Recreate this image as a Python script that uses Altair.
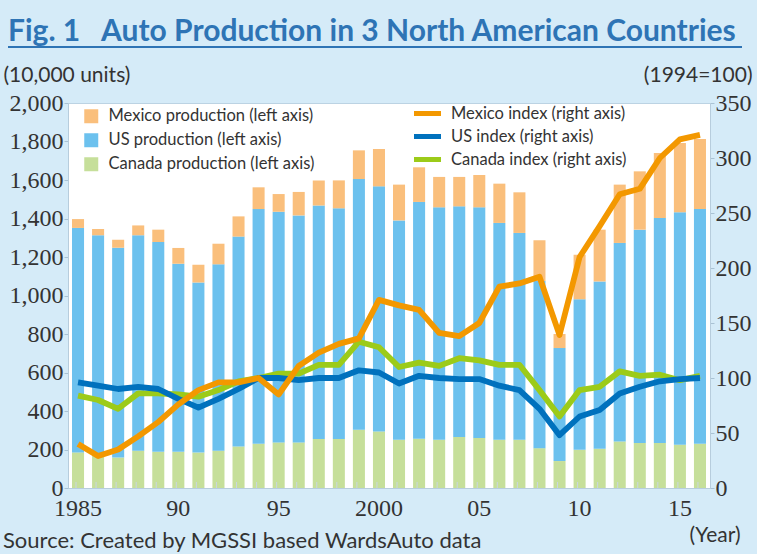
import altair as alt
import pandas as pd

years = list(range(1985, 2017))

# production (10,000 units), stacked: Canada bottom, US middle, Mexico top
canada_prod = [185, 182, 158, 194, 188, 188, 184, 194, 216, 230, 237, 237, 255, 255, 303, 294,
               251, 256, 251, 265, 260, 251, 251, 207, 140, 199, 204, 242, 234, 234, 225, 230]
us_prod = [1166, 1131, 1090, 1119, 1090, 977, 884, 968, 1090, 1219, 1198, 1179, 1212, 1198, 1302, 1273,
           1139, 1230, 1207, 1198, 1198, 1126, 1074, 868, 587, 781, 869, 1031, 1108, 1169, 1207, 1219]
mexico_prod = [46, 32, 42, 51, 64, 82, 92, 107, 105, 113, 92, 122, 131, 145, 149, 194,
               186, 180, 158, 153, 168, 204, 211, 212, 73, 232, 269, 303, 303, 337, 360, 364]

# indices (1994=100)
mexico_idx = [40, 29, 35, 47, 60, 76, 89, 96, 96, 100, 85, 111, 123, 131, 136, 171,
              166, 162, 141, 138, 150, 183, 186, 192, 139, 210, 238, 267, 272, 300, 317, 321]
us_idx = [96, 93, 90, 92, 90, 81, 73, 81, 90, 100, 100, 98, 100, 100, 107, 105,
          95, 102, 100, 99, 99, 93, 89, 72, 48, 65, 71, 86, 92, 97, 99, 100]
canada_idx = [84, 80, 72, 86, 86, 85, 83, 89, 97, 100, 104, 104, 112, 112, 133, 128,
              110, 114, 111, 118, 116, 112, 112, 89, 65, 89, 92, 106, 102, 103, 98, 102]

bar_names = ["Mexico production (left axis)", "US production (left axis)", "Canada production (left axis)"]
bar_colors = ["#fabf7c", "#6cc1ee", "#c6df9a"]
line_names = ["Mexico index (right axis)", "US index (right axis)", "Canada index (right axis)"]
line_colors = ["#f39800", "#0071bd", "#9ccb19"]

rows = []
for i, y in enumerate(years):
    rows.append({"year": y, "series": bar_names[2], "value": canada_prod[i], "ord": 0})
    rows.append({"year": y, "series": bar_names[1], "value": us_prod[i], "ord": 1})
    rows.append({"year": y, "series": bar_names[0], "value": mexico_prod[i], "ord": 2})
bars_df = pd.DataFrame(rows)

lrows = []
for name, vals in [(line_names[2], canada_idx), (line_names[1], us_idx), (line_names[0], mexico_idx)]:
    for y, v in zip(years, vals):
        lrows.append({"year": y, "series": name, "idx": v})
lines_df = pd.DataFrame(lrows)

W, H = 642, 385
LABEL_FONT = "Liberation Serif, Times New Roman, serif"
SANS = "Lato"

x_axis = alt.Axis(
    title="(Year)", titleX=672, titleY=47, titleAlign="right", titleBaseline="middle",
    titleFont=SANS, titleFontSize=21, titleFontWeight="normal", titleColor="#333333",
    labelAngle=0, labelFont=LABEL_FONT, labelFontSize=24, labelColor="#333333",
    labelPadding=8, ticks=False, domainColor="#b7cddd",
    labelExpr="datum.value % 5 != 0 ? '' : ((datum.value == 1985 || datum.value == 2000) ? '' + datum.value : substring('' + datum.value, 2))",
)
x_scale = alt.Scale(paddingInner=0.4, paddingOuter=0.2)
X = alt.X("year:O", scale=x_scale, axis=x_axis)

bars = alt.Chart(bars_df).mark_bar().encode(
    x=X,
    y=alt.Y("value:Q", stack="zero",
            scale=alt.Scale(domain=[0, 2000], nice=False),
            axis=alt.Axis(values=list(range(0, 2001, 200)), format=",d",
                          title="(10,000 units)", titleAngle=0, titleX=-65, titleY=-28,
                          titleAlign="left", titleBaseline="middle",
                          titleFont=SANS, titleFontSize=21, titleFontWeight="normal",
                          titleColor="#333333",
                          labelFont=LABEL_FONT, labelFontSize=24, labelColor="#333333",
                          tickSize=4, labelPadding=1, tickColor="#a9c2d4",
                          domainColor="#b7cddd", grid=False)),
    color=alt.Color("series:N",
                    scale=alt.Scale(domain=bar_names, range=bar_colors),
                    legend=alt.Legend(orient="none", legendX=15, legendY=5, title=None,
                                      symbolType="square", symbolSize=196, symbolStrokeWidth=0,
                                      labelFont=SANS, labelFontSize=16.5, labelColor="#333333",
                                      labelLimit=400, labelOffset=9, rowPadding=7, padding=0)),
    order=alt.Order("ord:Q"),
)

ticks = alt.Chart(pd.DataFrame({"year": years})).mark_rule(color="#c9d6e0", strokeWidth=1).encode(
    x=alt.X("year:O", scale=x_scale, bandPosition=1, axis=x_axis),
    xOffset=alt.value(4),
    y=alt.value(H - 6),
    y2=alt.value(H),
)

lines = alt.Chart(lines_df).mark_line(strokeWidth=5.8, strokeJoin="round").encode(
    x=X,
    y=alt.Y("idx:Q", scale=alt.Scale(domain=[0, 350], nice=False),
            axis=alt.Axis(orient="right", values=list(range(0, 351, 50)), format="d",
                          title="(1994=100)", titleAngle=0, titleX=42, titleY=-28,
                          titleAlign="right", titleBaseline="middle",
                          titleFont=SANS, titleFontSize=21, titleFontWeight="normal",
                          titleColor="#333333",
                          labelFont=LABEL_FONT, labelFontSize=24, labelColor="#333333",
                          tickSize=4, labelPadding=1, tickColor="#a9c2d4",
                          domainColor="#b7cddd", grid=False)),
    stroke=alt.Stroke("series:N",
                      scale=alt.Scale(domain=line_names, range=line_colors),
                      legend=alt.Legend(orient="none", legendX=350, legendY=1, title=None,
                                        symbolType="M-2,0H2", symbolSize=182, symbolStrokeWidth=5,
                                        labelFont=SANS, labelFontSize=16.5, labelColor="#333333",
                                        labelLimit=400, labelOffset=14, rowPadding=2, padding=0)),
    detail="series:N",
)

title_df = pd.DataFrame({"t": ["Fig. 1\u00a0\u00a0\u00a0Auto Production in 3 North American Countries"]})
title = alt.Chart(title_df).mark_text(
    align="left", baseline="alphabetic", font=SANS, fontSize=30, fontWeight="bold", color="#2e74b5"
).encode(x=alt.value(-60), y=alt.value(-62), text="t:N")

underline = alt.Chart(title_df).mark_rule(color="#2e74b5", strokeWidth=2).encode(
    x=alt.value(-60), x2=alt.value(674), y=alt.value(-56)
)

source_df = pd.DataFrame({"t": ["Source: Created by MGSSI based WardsAuto data"]})
source = alt.Chart(source_df).mark_text(
    align="left", baseline="middle", font=SANS, fontSize=22, color="#333333"
).encode(x=alt.value(-65), y=alt.value(438), text="t:N")

chart = alt.layer(bars, ticks, lines, title, underline, source).resolve_scale(
    y="independent", color="independent"
).properties(
    width=W, height=H,
    autosize=alt.AutoSizeParams(type="none"),
    padding={"left": 68, "top": 103, "right": 47, "bottom": 66},
    background="#d5ebf8",
).configure_view(fill="white", stroke="#bcd3e3", strokeWidth=1)

chart.save("out.html", embed_options={"renderer": "svg", "actions": False})
